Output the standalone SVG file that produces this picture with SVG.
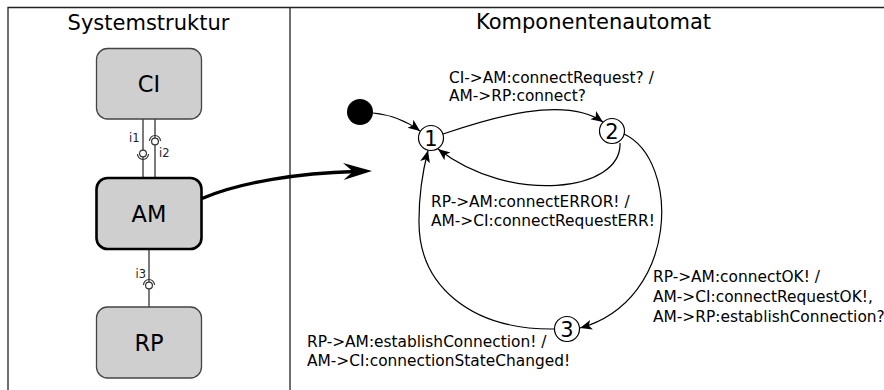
<svg xmlns="http://www.w3.org/2000/svg" width="884" height="390" viewBox="0 0 884 390">
  <style>
    text { font-family: "DejaVu Sans", "Liberation Sans", sans-serif; fill: #000; }
    .title { font-size: 21px; text-anchor: middle; }
    .comp { fill: #cfcfcf; stroke: #444; stroke-width: 1.3; }
    .comp-active { fill: #cfcfcf; stroke: #000; stroke-width: 2.6; }
    .comp-label { font-size: 22.5px; text-anchor: middle; }
    .iface { stroke: #333; stroke-width: 1.3; fill: none; }
    .ball { fill: #fff; stroke: #333; stroke-width: 1.2; }
    .socket { fill: none; stroke: #333; stroke-width: 1.2; }
    .iface-label { font-size: 11.5px; fill: #222; }
    .state { fill: #fff; stroke: #000; stroke-width: 1.2; }
    .state-label { font-size: 21px; text-anchor: middle; }
    .edge { fill: none; stroke: #000; stroke-width: 1.2; marker-end: url(#arrow); }
    .edge-label { font-size: 15.4px; }
    .frame { stroke: #222; stroke-width: 1.3; fill: none; }
  </style>
  <defs>
    <marker id="arrow" markerUnits="userSpaceOnUse" markerWidth="14" markerHeight="12" viewBox="-12 -6 14 12" refX="0" refY="0" orient="auto">
      <path d="M0,0 L-12,-5 L-9,0 L-12,5 Z" fill="#000"/>
    </marker>
  </defs>

  <!-- frame and divider -->
  <g id="frame">
    <path class="frame" d="M8,390 V7.5 H884"/>
    <path class="frame" d="M290,7.5 V390"/>
  </g>

  <text class="title" x="148.5" y="30">Systemstruktur</text>
  <text class="title" x="593.5" y="29">Komponentenautomat</text>

  <!-- interface connectors of the system structure -->
  <g id="interfaces">
    <line class="iface" x1="143" y1="119" x2="143" y2="178"/>
    <line class="iface" x1="155" y1="119" x2="155" y2="178"/>
    <line class="iface" x1="149" y1="249" x2="149" y2="307"/>
    <!-- i1: ball with socket below -->
    <path class="socket" d="M137.5,154 A5.5,5.5 0 0 0 148.5,154"/>
    <circle class="ball" cx="143" cy="153.5" r="3.4"/>
    <!-- i2: ball with socket above -->
    <path class="socket" d="M149.5,141 A5.5,5.5 0 0 1 160.5,141"/>
    <circle class="ball" cx="155" cy="141.5" r="3.4"/>
    <!-- i3: ball with socket above -->
    <path class="socket" d="M143.5,285 A5.5,5.5 0 0 1 154.5,285"/>
    <circle class="ball" cx="149" cy="285.5" r="3.4"/>
    <text class="iface-label" x="129" y="142">i1</text>
    <text class="iface-label" x="159" y="157">i2</text>
    <text class="iface-label" x="135.5" y="278">i3</text>
  </g>

  <g id="CI">
    <rect class="comp" x="96.5" y="48.5" width="105" height="70.5" rx="11"/>
    <text class="comp-label" x="149" y="92">CI</text>
  </g>
  <g id="AM">
    <rect class="comp-active" x="96.5" y="178" width="105" height="71" rx="11"/>
    <text class="comp-label" x="149" y="221.5">AM</text>
  </g>
  <g id="RP">
    <rect class="comp" x="96.5" y="307" width="105" height="71" rx="11"/>
    <text class="comp-label" x="149" y="350.5">RP</text>
  </g>

  <!-- refinement arrow from AM to its automaton -->
  <g id="refinement">
    <path d="M202,198.5 C240,182 300,173 355,171.5" fill="none" stroke="#000" stroke-width="3.3"/>
    <path d="M372,171 L343,163 L353,171.5 L343.5,180 Z" fill="#000"/>
  </g>

  <!-- state machine -->
  <g id="connectors">
    <path class="edge" d="M373,113 C393,115 408,122 420,131"/>
    <path class="edge" d="M443,134 C490,118 565,95 603,122"/>
    <path class="edge" d="M620,143 C622,192 510,205 438,149"/>
    <path class="edge" d="M624,134 C680,160 680,300 580,328"/>
    <path class="edge" d="M554.5,329 C470,330 418,285 419,220 C419,190 423,170 428,150.5"/>
  </g>

  <g id="initial">
    <circle cx="360" cy="112" r="13" fill="#000"/>
  </g>
  <g id="state1">
    <circle class="state" cx="431" cy="138" r="12.5"/>
    <text class="state-label" x="431" y="145.5">1</text>
  </g>
  <g id="state2">
    <circle class="state" cx="612" cy="131" r="12.5"/>
    <text class="state-label" x="612" y="138.5">2</text>
  </g>
  <g id="state3">
    <circle class="state" cx="567" cy="329" r="12.5"/>
    <text class="state-label" x="567" y="336.5">3</text>
  </g>

  <g id="edge-labels">
    <text class="edge-label" x="449" y="83">CI-&gt;AM:connectRequest? /</text>
    <text class="edge-label" x="449" y="101">AM-&gt;RP:connect?</text>
    <text class="edge-label" x="431" y="207">RP-&gt;AM:connectERROR! /</text>
    <text class="edge-label" x="431" y="226">AM-&gt;CI:connectRequestERR!</text>
    <text class="edge-label" x="653" y="282">RP-&gt;AM:connectOK! /</text>
    <text class="edge-label" x="653" y="302">AM-&gt;CI:connectRequestOK!,</text>
    <text class="edge-label" x="653" y="322">AM-&gt;RP:establishConnection?</text>
    <text class="edge-label" x="307" y="347">RP-&gt;AM:establishConnection! /</text>
    <text class="edge-label" x="307" y="366">AM-&gt;CI:connectionStateChanged!</text>
  </g>
</svg>
